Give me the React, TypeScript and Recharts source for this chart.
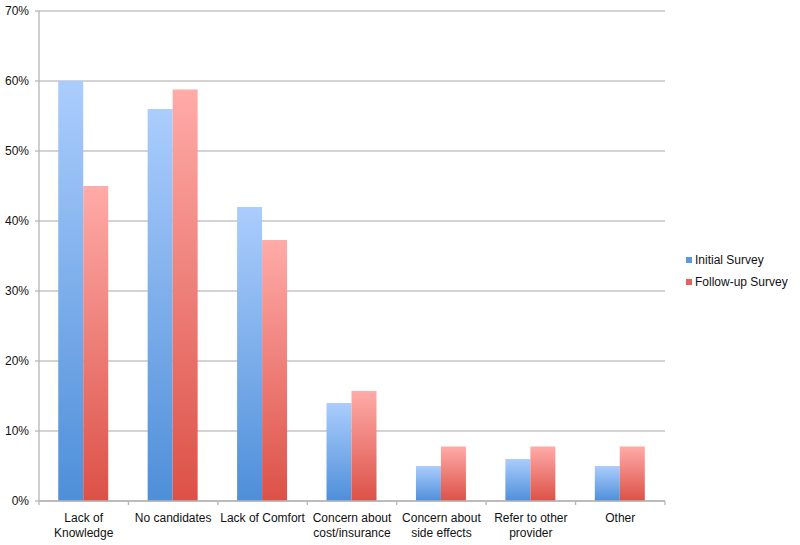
import React from 'react';
import { BarChart, Bar, XAxis, YAxis, CartesianGrid, Legend } from 'recharts';

const categories = [
  'Lack of\nKnowledge',
  'No candidates',
  'Lack of Comfort',
  'Concern about\ncost/insurance',
  'Concern about\nside effects',
  'Refer to other\nprovider',
  'Other',
];
const initialSurvey = [60, 56, 42, 14, 5, 6, 5];
const followUpSurvey = [45, 58.8, 37.3, 15.7, 7.8, 7.8, 7.8];
const yTicks = [0, 10, 20, 30, 40, 50, 60, 70];
const seriesNames = ['Initial Survey', 'Follow-up Survey'];

const data = categories.map((c, i) => ({
  name: c,
  initial: initialSurvey[i],
  followup: followUpSurvey[i],
}));

const W = 800;
const H = 545;
const M = { top: 11, right: 135, left: 0, bottom: 0 };
const Y_W = 39;
const X_H = 44;
const BAND = (W - M.right - M.left - Y_W) / categories.length;
const FONT = '"Liberation Sans", Arial, Helvetica, sans-serif';

const XTick = (props: any) => {
  const { x, y, payload, index } = props;
  const lines = String(payload.value).split('\n');
  const isLast = index === categories.length - 1;
  return (
    <g>
      <line x1={x - BAND / 2} x2={x - BAND / 2} y1={y - 8} y2={y - 4} stroke="#b5b5b5" strokeWidth={1.3} />
      {isLast && (
        <line x1={x + BAND / 2} x2={x + BAND / 2} y1={y - 8} y2={y - 4} stroke="#b5b5b5" strokeWidth={1.3} />
      )}
      <text x={x} y={y + 13} textAnchor="middle" fontSize={12} fill="#111" fontFamily={FONT}>
        {lines.map((l, i) => (
          <tspan key={i} x={x} dy={i === 0 ? 0 : 15}>
            {l}
          </tspan>
        ))}
      </text>
    </g>
  );
};

const LegendContent = () => (
  <div style={{ fontFamily: FONT, fontSize: 12, color: '#111' }}>
    {seriesNames.map((n, i) => (
      <div key={n} style={{ display: 'flex', alignItems: 'center', height: 22 }}>
        <span
          style={{
            display: 'inline-block',
            width: 6,
            height: 6,
            marginRight: 3,
            background: i === 0 ? '#5c9ae0' : '#e4625a',
          }}
        />
        <span>{n}</span>
      </div>
    ))}
  </div>
);

export default function App() {
  return (
    <div style={{ position: 'absolute', left: 0, top: 0, width: W, height: H, background: '#fff' }}>
      <BarChart width={W} height={H} data={data} margin={M} barCategoryGap="21.5%" barGap={0}>
        <defs>
          <linearGradient id="gBlue" x1="0" y1="0" x2="0" y2="1">
            <stop offset="0%" stopColor="#abcdfd" />
            <stop offset="100%" stopColor="#4e8fd9" />
          </linearGradient>
          <linearGradient id="gRed" x1="0" y1="0" x2="0" y2="1">
            <stop offset="0%" stopColor="#ffaba8" />
            <stop offset="100%" stopColor="#dc5147" />
          </linearGradient>
        </defs>
        <CartesianGrid vertical={false} stroke="#c4c4c4" strokeWidth={1.5} />
        <XAxis
          dataKey="name"
          height={X_H}
          interval={0}
          axisLine={{ stroke: '#b5b5b5', strokeWidth: 1.3 }}
          tickLine={false}
          tick={<XTick />}
        />
        <YAxis
          width={Y_W}
          domain={[0, 70]}
          ticks={yTicks}
          interval={0}
          tickFormatter={(v: number) => `${v}%`}
          axisLine={{ stroke: '#b5b5b5', strokeWidth: 1.3 }}
          tickLine={{ stroke: '#b5b5b5', strokeWidth: 1.3 }}
          tickSize={4}
          tickMargin={6}
          tick={{ fontSize: 12, fill: '#111', fontFamily: FONT }}
        />
        <Legend
          layout="vertical"
          align="center"
          verticalAlign="middle"
          content={<LegendContent />}
          wrapperStyle={{ left: 686, top: 249, width: 114 }}
        />
        <Bar dataKey="initial" name={seriesNames[0]} fill="url(#gBlue)" isAnimationActive={false} />
        <Bar dataKey="followup" name={seriesNames[1]} fill="url(#gRed)" isAnimationActive={false} />
      </BarChart>
    </div>
  );
}
